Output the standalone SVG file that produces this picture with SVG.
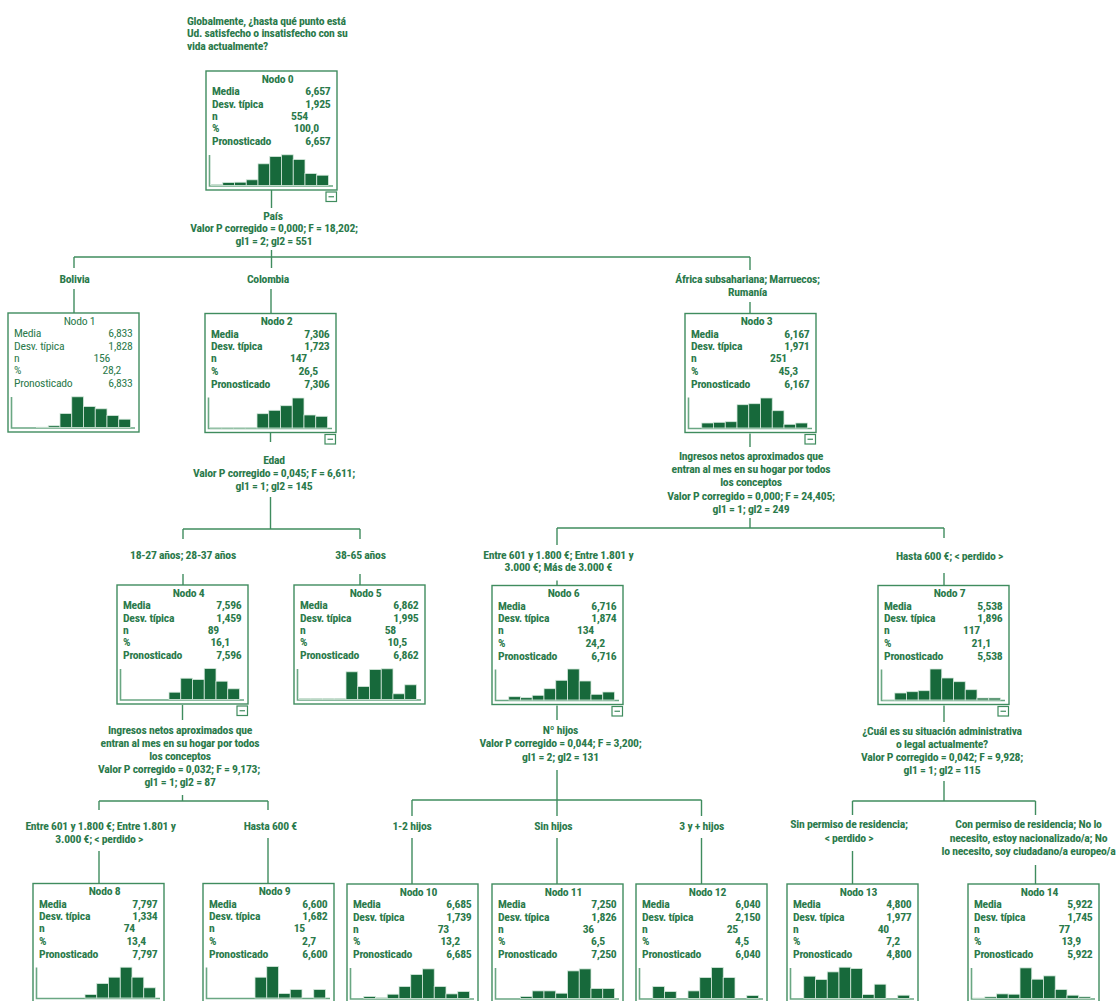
<svg xmlns="http://www.w3.org/2000/svg" xmlns:xlink="http://www.w3.org/1999/xlink" width="1117" height="1001" viewBox="0 0 1117 1001">
<style>
.t{font-family:"Liberation Sans Narrow","Arial Narrow","Roboto Condensed","DejaVu Sans Condensed","Liberation Sans",sans-serif;font-stretch:condensed;font-size:11.7px;letter-spacing:-0.25px;font-weight:bold;fill:#2b7a4b}
.c{text-anchor:middle}
.e{text-anchor:end}
.lt .t{font-weight:normal}
.box{fill:#fff;stroke:#3f8c5e;stroke-width:1.4}
.ax{fill:none;stroke:#6aa783;stroke-width:1.6}
.bar rect{fill:#17693b;stroke:#d6e9dd;stroke-width:0.8}
.mn{fill:#fff;stroke:#3f8c5e;stroke-width:1.2}
.conn line{stroke:#3f8c5e;stroke-width:1.4}
</style>
<defs>
<g id="minus"><rect class="mn" x="120" y="121" width="10.5" height="9.5"/><line x1="122.5" y1="125.75" x2="128" y2="125.75" stroke="#3f8c5e" stroke-width="1.2"/></g>
<g id="frame"><rect class="box" x="0" y="0" width="131" height="119"/><path class="ax" d="M3.5,84 V115 H127"/></g>
</defs>
<rect width="1117" height="1001" fill="#fff"/>

<g id="title">
<text class="t" x="187" y="24.5">Globalmente, ¿hasta qué punto está</text>
<text class="t" x="187" y="37.3">Ud. satisfecho o insatisfecho con su</text>
<text class="t" x="187" y="50">vida actualmente?</text>
</g>

<g id="connectors" class="conn">
<line x1="271.5" y1="190" x2="271.5" y2="208"/>
<line x1="271.5" y1="250" x2="271.5" y2="268"/>
<line x1="74" y1="257" x2="750" y2="257"/>
<line x1="74" y1="257" x2="74" y2="268"/>
<line x1="750" y1="257" x2="750" y2="270"/>
<line x1="74" y1="289" x2="74" y2="313"/>
<line x1="271" y1="289" x2="271" y2="313.5"/>
<line x1="750" y1="302" x2="750" y2="313.5"/>

<line x1="270.5" y1="433" x2="270.5" y2="442"/>
<line x1="270.5" y1="497" x2="270.5" y2="529"/>
<line x1="183" y1="529" x2="360" y2="529"/>
<line x1="183" y1="529" x2="183" y2="539"/>
<line x1="360" y1="529" x2="360" y2="539"/>
<line x1="183" y1="574" x2="183" y2="585"/>
<line x1="360" y1="574" x2="360" y2="585"/>

<line x1="750" y1="433.5" x2="750" y2="447"/>
<line x1="750" y1="518" x2="750" y2="528"/>
<line x1="557" y1="528" x2="944" y2="528"/>
<line x1="557" y1="528" x2="557" y2="545"/>
<line x1="944" y1="528" x2="944" y2="538"/>
<line x1="557" y1="580.5" x2="557" y2="585.5"/>
<line x1="944" y1="573" x2="944" y2="585.5"/>

<line x1="182.5" y1="705" x2="182.5" y2="720"/>
<line x1="182.5" y1="795" x2="182.5" y2="801"/>
<line x1="99" y1="801" x2="268" y2="801"/>
<line x1="99" y1="801" x2="99" y2="810"/>
<line x1="268" y1="801" x2="268" y2="810"/>
<line x1="99" y1="851" x2="99" y2="883.5"/>
<line x1="268" y1="838" x2="268" y2="883.5"/>

<line x1="557" y1="705.5" x2="557" y2="720"/>
<line x1="557" y1="770" x2="557" y2="816"/>
<line x1="412" y1="800" x2="701.5" y2="800"/>
<line x1="412" y1="800" x2="412" y2="816"/>
<line x1="701.5" y1="800" x2="701.5" y2="816"/>
<line x1="412" y1="838" x2="412" y2="884"/>
<line x1="557" y1="838" x2="557" y2="884"/>
<line x1="701.5" y1="838" x2="701.5" y2="884"/>

<line x1="944" y1="705.5" x2="944" y2="722"/>
<line x1="944" y1="781" x2="944" y2="801"/>
<line x1="852.5" y1="801" x2="1035.5" y2="801"/>
<line x1="852.5" y1="801" x2="852.5" y2="815"/>
<line x1="1035.5" y1="801" x2="1035.5" y2="815"/>
<line x1="852.5" y1="851" x2="852.5" y2="884"/>
<line x1="1035.5" y1="865" x2="1035.5" y2="884"/>
</g>

<g id="labels">
<text class="t c" x="273" y="219.5">País</text>
<text class="t c" x="274" y="232">Valor P corregido = 0,000; F = 18,202;</text>
<text class="t c" x="274" y="244.5">gl1 = 2; gl2 = 551</text>
<text class="t c" x="74.5" y="283">Bolivia</text>
<text class="t c" x="268" y="283">Colombia</text>
<text class="t c" x="747.5" y="283">África subsahariana; Marruecos;</text>
<text class="t c" x="747.5" y="296">Rumanía</text>

<text class="t c" x="274" y="464">Edad</text>
<text class="t c" x="274" y="477">Valor P corregido = 0,045; F = 6,611;</text>
<text class="t c" x="274" y="490">gl1 = 1; gl2 = 145</text>
<text class="t c" x="183" y="559.3">18-27 años; 28-37 años</text>
<text class="t c" x="360.5" y="559.3">38-65 años</text>

<text class="t c" x="751" y="460">Ingresos netos aproximados que</text>
<text class="t c" x="751" y="473">entran al mes en su hogar por todos</text>
<text class="t c" x="751" y="486">los conceptos</text>
<text class="t c" x="751" y="499.5">Valor P corregido = 0,000; F = 24,405;</text>
<text class="t c" x="751" y="512.5">gl1 = 1; gl2 = 249</text>
<text class="t c" x="558.3" y="558.5">Entre 601 y 1.800 €; Entre 1.801 y</text>
<text class="t c" x="558.3" y="571.2">3.000 €; Más de 3.000 €</text>
<text class="t c" x="949.5" y="560">Hasta 600 €; &lt; perdido &gt;</text>

<text class="t c" x="180" y="734">Ingresos netos aproximados que</text>
<text class="t c" x="180" y="747">entran al mes en su hogar por todos</text>
<text class="t c" x="180" y="760">los conceptos</text>
<text class="t c" x="179" y="773.3">Valor P corregido = 0,032; F = 9,173;</text>
<text class="t c" x="180" y="786">gl1 = 1; gl2 = 87</text>
<text class="t c" x="100.5" y="830">Entre 601 y 1.800 €; Entre 1.801 y</text>
<text class="t c" x="99.2" y="842.7">3.000 €; &lt; perdido &gt;</text>
<text class="t c" x="270.3" y="830">Hasta 600 €</text>

<text class="t c" x="560.5" y="734">Nº hijos</text>
<text class="t c" x="560.5" y="747">Valor P corregido = 0,044; F = 3,200;</text>
<text class="t c" x="560.5" y="760.5">gl1 = 2; gl2 = 131</text>
<text class="t c" x="412" y="829.5">1-2 hijos</text>
<text class="t c" x="553.3" y="829.5">Sin hijos</text>
<text class="t c" x="701.7" y="829.5">3 y + hijos</text>

<text class="t c" x="942" y="735">¿Cuál es su situación administrativa</text>
<text class="t c" x="942" y="747.5">o legal actualmente?</text>
<text class="t c" x="942" y="760.5">Valor P corregido = 0,042; F = 9,928;</text>
<text class="t c" x="942" y="773.5">gl1 = 1; gl2 = 115</text>
<text class="t c" x="849" y="828.3">Sin permiso de residencia;</text>
<text class="t c" x="849" y="841.7">&lt; perdido &gt;</text>
<text class="t c" x="1028.5" y="828.3">Con permiso de residencia; No lo</text>
<text class="t c" x="1028.5" y="841.7">necesito, estoy nacionalizado/a; No</text>
<text class="t c" x="1028.5" y="855">lo necesito, soy ciudadano/a europeo/a</text>
</g>

<g id="node0" transform="translate(206,71)">
<use xlink:href="#frame"/>
<text class="t c" x="71.5" y="11.7">Nodo 0</text>
<text class="t" x="6" y="24">Media</text><text class="t e" x="124.5" y="24">6,657</text>
<text class="t" x="6" y="36.5">Desv. típica</text><text class="t e" x="124.5" y="36.5">1,925</text>
<text class="t" x="6" y="48.7">n</text><text class="t e" x="102" y="48.7">554</text>
<text class="t" x="6" y="61">%</text><text class="t e" x="113" y="61">100,0</text>
<text class="t" x="6" y="74">Pronosticado</text><text class="t e" x="124.5" y="74">6,657</text>
<g class="bar">
<rect x="5" y="113.5" width="11.75" height="1"/>
<rect x="16.75" y="111.5" width="11.75" height="3"/>
<rect x="28.5" y="111.2" width="11.75" height="3.3"/>
<rect x="40.25" y="108.8" width="11.75" height="5.7"/>
<rect x="52" y="92.8" width="11.75" height="21.7"/>
<rect x="63.75" y="85.5" width="11.75" height="29"/>
<rect x="75.5" y="83.8" width="11.75" height="30.7"/>
<rect x="87.25" y="88.5" width="11.75" height="26"/>
<rect x="99" y="102.5" width="11.75" height="12"/>
<rect x="110.75" y="104.2" width="11.75" height="10.3"/>
</g>
<use xlink:href="#minus"/>
</g>

<g id="node1" class="lt" transform="translate(8,313)">
<use xlink:href="#frame"/>
<text class="t c" x="71.5" y="11.7">Nodo 1</text>
<text class="t" x="6" y="24">Media</text><text class="t e" x="124.5" y="24">6,833</text>
<text class="t" x="6" y="36.5">Desv. típica</text><text class="t e" x="124.5" y="36.5">1,828</text>
<text class="t" x="6" y="48.7">n</text><text class="t e" x="102" y="48.7">156</text>
<text class="t" x="6" y="61">%</text><text class="t e" x="113" y="61">28,2</text>
<text class="t" x="6" y="74">Pronosticado</text><text class="t e" x="124.5" y="74">6,833</text>
<g class="bar">
<rect x="28.5" y="114.2" width="11.75" height="0.3"/>
<rect x="40.25" y="112.8" width="11.75" height="1.7"/>
<rect x="52" y="100.5" width="11.75" height="14"/>
<rect x="63.75" y="83.8" width="11.75" height="30.7"/>
<rect x="75.5" y="93.5" width="11.75" height="21"/>
<rect x="87.25" y="95.8" width="11.75" height="18.7"/>
<rect x="99" y="102.5" width="11.75" height="12"/>
<rect x="110.75" y="106.2" width="11.75" height="8.3"/>
</g>
</g>

<g id="node2" transform="translate(205,313.5)">
<use xlink:href="#frame"/>
<text class="t c" x="71.5" y="11.7">Nodo 2</text>
<text class="t" x="6" y="24">Media</text><text class="t e" x="124.5" y="24">7,306</text>
<text class="t" x="6" y="36.5">Desv. típica</text><text class="t e" x="124.5" y="36.5">1,723</text>
<text class="t" x="6" y="48.7">n</text><text class="t e" x="102" y="48.7">147</text>
<text class="t" x="6" y="61">%</text><text class="t e" x="113" y="61">26,5</text>
<text class="t" x="6" y="74">Pronosticado</text><text class="t e" x="124.5" y="74">7,306</text>
<g class="bar">
<rect x="5" y="114.2" width="11.75" height="0.3"/>
<rect x="16.75" y="114.2" width="11.75" height="0.3"/>
<rect x="28.5" y="114.2" width="11.75" height="0.3"/>
<rect x="40.25" y="114.2" width="11.75" height="0.3"/>
<rect x="52" y="100.2" width="11.75" height="14.3"/>
<rect x="63.75" y="96.8" width="11.75" height="17.7"/>
<rect x="75.5" y="92.2" width="11.75" height="22.3"/>
<rect x="87.25" y="84.5" width="11.75" height="30"/>
<rect x="99" y="101.5" width="11.75" height="13"/>
<rect x="110.75" y="102.8" width="11.75" height="11.7"/>
</g>
<use xlink:href="#minus"/>
</g>

<g id="node3" transform="translate(685,313.5)">
<use xlink:href="#frame"/>
<text class="t c" x="71.5" y="11.7">Nodo 3</text>
<text class="t" x="6" y="24">Media</text><text class="t e" x="124.5" y="24">6,167</text>
<text class="t" x="6" y="36.5">Desv. típica</text><text class="t e" x="124.5" y="36.5">1,971</text>
<text class="t" x="6" y="48.7">n</text><text class="t e" x="102" y="48.7">251</text>
<text class="t" x="6" y="61">%</text><text class="t e" x="113" y="61">45,3</text>
<text class="t" x="6" y="74">Pronosticado</text><text class="t e" x="124.5" y="74">6,167</text>
<g class="bar">
<rect x="16.75" y="109.5" width="11.75" height="5"/>
<rect x="28.5" y="108.8" width="11.75" height="5.7"/>
<rect x="40.25" y="108.2" width="11.75" height="6.3"/>
<rect x="52" y="91.2" width="11.75" height="23.3"/>
<rect x="63.75" y="90.2" width="11.75" height="24.3"/>
<rect x="75.5" y="84.5" width="11.75" height="30"/>
<rect x="87.25" y="97.2" width="11.75" height="17.3"/>
<rect x="99" y="110.8" width="11.75" height="3.7"/>
<rect x="110.75" y="109.5" width="11.75" height="5"/>
</g>
<use xlink:href="#minus"/>
</g>

<g id="node4" transform="translate(117,585)">
<use xlink:href="#frame"/>
<text class="t c" x="71.5" y="11.7">Nodo 4</text>
<text class="t" x="6" y="24">Media</text><text class="t e" x="124.5" y="24">7,596</text>
<text class="t" x="6" y="36.5">Desv. típica</text><text class="t e" x="124.5" y="36.5">1,459</text>
<text class="t" x="6" y="48.7">n</text><text class="t e" x="102" y="48.7">89</text>
<text class="t" x="6" y="61">%</text><text class="t e" x="113" y="61">16,1</text>
<text class="t" x="6" y="74">Pronosticado</text><text class="t e" x="124.5" y="74">7,596</text>
<g class="bar">
<rect x="52" y="107.2" width="11.75" height="7.3"/>
<rect x="63.75" y="93.2" width="11.75" height="21.3"/>
<rect x="75.5" y="94.5" width="11.75" height="20"/>
<rect x="87.25" y="83.5" width="11.75" height="31"/>
<rect x="99" y="96.2" width="11.75" height="18.3"/>
<rect x="110.75" y="103.8" width="11.75" height="10.7"/>
</g>
<use xlink:href="#minus"/>
</g>

<g id="node5" transform="translate(294,585)">
<use xlink:href="#frame"/>
<text class="t c" x="71.5" y="11.7">Nodo 5</text>
<text class="t" x="6" y="24">Media</text><text class="t e" x="124.5" y="24">6,862</text>
<text class="t" x="6" y="36.5">Desv. típica</text><text class="t e" x="124.5" y="36.5">1,995</text>
<text class="t" x="6" y="48.7">n</text><text class="t e" x="102" y="48.7">58</text>
<text class="t" x="6" y="61">%</text><text class="t e" x="113" y="61">10,5</text>
<text class="t" x="6" y="74">Pronosticado</text><text class="t e" x="124.5" y="74">6,862</text>
<g class="bar">
<rect x="5" y="113.5" width="11.75" height="1"/>
<rect x="16.75" y="113.5" width="11.75" height="1"/>
<rect x="28.5" y="113.5" width="11.75" height="1"/>
<rect x="40.25" y="113.5" width="11.75" height="1"/>
<rect x="52" y="86.8" width="11.75" height="27.7"/>
<rect x="63.75" y="101.5" width="11.75" height="13"/>
<rect x="75.5" y="84.5" width="11.75" height="30"/>
<rect x="87.25" y="83.8" width="11.75" height="30.7"/>
<rect x="99" y="108.8" width="11.75" height="5.7"/>
<rect x="110.75" y="99.8" width="11.75" height="14.7"/>
</g>
</g>

<g id="node6" transform="translate(492,585.5)">
<use xlink:href="#frame"/>
<text class="t c" x="71.5" y="11.7">Nodo 6</text>
<text class="t" x="6" y="24">Media</text><text class="t e" x="124.5" y="24">6,716</text>
<text class="t" x="6" y="36.5">Desv. típica</text><text class="t e" x="124.5" y="36.5">1,874</text>
<text class="t" x="6" y="48.7">n</text><text class="t e" x="102" y="48.7">134</text>
<text class="t" x="6" y="61">%</text><text class="t e" x="113" y="61">24,2</text>
<text class="t" x="6" y="74">Pronosticado</text><text class="t e" x="124.5" y="74">6,716</text>
<g class="bar">
<rect x="16.75" y="111.2" width="11.75" height="3.3"/>
<rect x="28.5" y="112.2" width="11.75" height="2.3"/>
<rect x="40.25" y="109.8" width="11.75" height="4.7"/>
<rect x="52" y="103.2" width="11.75" height="11.3"/>
<rect x="63.75" y="94.8" width="11.75" height="19.7"/>
<rect x="75.5" y="83.5" width="11.75" height="31"/>
<rect x="87.25" y="95.5" width="11.75" height="19"/>
<rect x="99" y="108.8" width="11.75" height="5.7"/>
<rect x="110.75" y="106.5" width="11.75" height="8"/>
</g>
<use xlink:href="#minus"/>
</g>

<g id="node7" transform="translate(878,585.5)">
<use xlink:href="#frame"/>
<text class="t c" x="71.5" y="11.7">Nodo 7</text>
<text class="t" x="6" y="24">Media</text><text class="t e" x="124.5" y="24">5,538</text>
<text class="t" x="6" y="36.5">Desv. típica</text><text class="t e" x="124.5" y="36.5">1,896</text>
<text class="t" x="6" y="48.7">n</text><text class="t e" x="102" y="48.7">117</text>
<text class="t" x="6" y="61">%</text><text class="t e" x="113" y="61">21,1</text>
<text class="t" x="6" y="74">Pronosticado</text><text class="t e" x="124.5" y="74">5,538</text>
<g class="bar">
<rect x="5" y="114" width="11.75" height="0.5"/>
<rect x="16.75" y="107.5" width="11.75" height="7"/>
<rect x="28.5" y="106.2" width="11.75" height="8.3"/>
<rect x="40.25" y="105.2" width="11.75" height="9.3"/>
<rect x="52" y="83.5" width="11.75" height="31"/>
<rect x="63.75" y="92.5" width="11.75" height="22"/>
<rect x="75.5" y="96.2" width="11.75" height="18.3"/>
<rect x="87.25" y="104.2" width="11.75" height="10.3"/>
<rect x="99" y="112.5" width="11.75" height="2"/>
<rect x="110.75" y="112.5" width="11.75" height="2"/>
</g>
<use xlink:href="#minus"/>
</g>

<g id="node8" transform="translate(33,883.5)">
<use xlink:href="#frame"/>
<text class="t c" x="71.5" y="11.7">Nodo 8</text>
<text class="t" x="6" y="24">Media</text><text class="t e" x="124.5" y="24">7,797</text>
<text class="t" x="6" y="36.5">Desv. típica</text><text class="t e" x="124.5" y="36.5">1,334</text>
<text class="t" x="6" y="48.7">n</text><text class="t e" x="102" y="48.7">74</text>
<text class="t" x="6" y="61">%</text><text class="t e" x="113" y="61">13,4</text>
<text class="t" x="6" y="74">Pronosticado</text><text class="t e" x="124.5" y="74">7,797</text>
<g class="bar">
<rect x="52" y="111" width="11.75" height="3.5"/>
<rect x="63.75" y="100" width="11.75" height="14.5"/>
<rect x="75.5" y="93.7" width="11.75" height="20.8"/>
<rect x="87.25" y="83.7" width="11.75" height="30.8"/>
<rect x="99" y="93.7" width="11.75" height="20.8"/>
<rect x="110.75" y="104.3" width="11.75" height="10.2"/>
</g>
</g>

<g id="node9" transform="translate(203,883.5)">
<use xlink:href="#frame"/>
<text class="t c" x="71.5" y="11.7">Nodo 9</text>
<text class="t" x="6" y="24">Media</text><text class="t e" x="124.5" y="24">6,600</text>
<text class="t" x="6" y="36.5">Desv. típica</text><text class="t e" x="124.5" y="36.5">1,682</text>
<text class="t" x="6" y="48.7">n</text><text class="t e" x="102" y="48.7">15</text>
<text class="t" x="6" y="61">%</text><text class="t e" x="113" y="61">2,7</text>
<text class="t" x="6" y="74">Pronosticado</text><text class="t e" x="124.5" y="74">6,600</text>
<g class="bar">
<rect x="52" y="93.7" width="11.75" height="20.8"/>
<rect x="63.75" y="83" width="11.75" height="31.5"/>
<rect x="75.5" y="110" width="11.75" height="4.5"/>
<rect x="87.25" y="106" width="11.75" height="8.5"/>
<rect x="110.75" y="106" width="11.75" height="8.5"/>
</g>
</g>

<g id="node10" transform="translate(347,884)">
<use xlink:href="#frame"/>
<text class="t c" x="71.5" y="11.7">Nodo 10</text>
<text class="t" x="6" y="24">Media</text><text class="t e" x="124.5" y="24">6,685</text>
<text class="t" x="6" y="36.5">Desv. típica</text><text class="t e" x="124.5" y="36.5">1,739</text>
<text class="t" x="6" y="48.7">n</text><text class="t e" x="102" y="48.7">73</text>
<text class="t" x="6" y="61">%</text><text class="t e" x="113" y="61">13,2</text>
<text class="t" x="6" y="74">Pronosticado</text><text class="t e" x="124.5" y="74">6,685</text>
<g class="bar">
<rect x="16.75" y="112.5" width="11.75" height="2"/>
<rect x="28.5" y="113.7" width="11.75" height="0.8"/>
<rect x="40.25" y="110.2" width="11.75" height="4.3"/>
<rect x="52" y="102.5" width="11.75" height="12"/>
<rect x="63.75" y="90.5" width="11.75" height="24"/>
<rect x="75.5" y="84.9" width="11.75" height="29.6"/>
<rect x="87.25" y="102.5" width="11.75" height="12"/>
<rect x="99" y="109.9" width="11.75" height="4.6"/>
<rect x="110.75" y="107.5" width="11.75" height="7"/>
</g>
</g>

<g id="node11" transform="translate(492,884)">
<use xlink:href="#frame"/>
<text class="t c" x="71.5" y="11.7">Nodo 11</text>
<text class="t" x="6" y="24">Media</text><text class="t e" x="124.5" y="24">7,250</text>
<text class="t" x="6" y="36.5">Desv. típica</text><text class="t e" x="124.5" y="36.5">1,826</text>
<text class="t" x="6" y="48.7">n</text><text class="t e" x="102" y="48.7">36</text>
<text class="t" x="6" y="61">%</text><text class="t e" x="113" y="61">6,5</text>
<text class="t" x="6" y="74">Pronosticado</text><text class="t e" x="124.5" y="74">7,250</text>
<g class="bar">
<rect x="28.5" y="112.5" width="11.75" height="2"/>
<rect x="40.25" y="106.9" width="11.75" height="7.6"/>
<rect x="52" y="106.9" width="11.75" height="7.6"/>
<rect x="63.75" y="109.2" width="11.75" height="5.3"/>
<rect x="75.5" y="86.9" width="11.75" height="27.6"/>
<rect x="87.25" y="84.9" width="11.75" height="29.6"/>
<rect x="99" y="104.5" width="11.75" height="10"/>
<rect x="110.75" y="104.5" width="11.75" height="10"/>
</g>
</g>

<g id="node12" transform="translate(636,884)">
<use xlink:href="#frame"/>
<text class="t c" x="71.5" y="11.7">Nodo 12</text>
<text class="t" x="6" y="24">Media</text><text class="t e" x="124.5" y="24">6,040</text>
<text class="t" x="6" y="36.5">Desv. típica</text><text class="t e" x="124.5" y="36.5">2,150</text>
<text class="t" x="6" y="48.7">n</text><text class="t e" x="102" y="48.7">25</text>
<text class="t" x="6" y="61">%</text><text class="t e" x="113" y="61">4,5</text>
<text class="t" x="6" y="74">Pronosticado</text><text class="t e" x="124.5" y="74">6,040</text>
<g class="bar">
<rect x="16.75" y="102.5" width="11.75" height="12"/>
<rect x="28.5" y="107.5" width="11.75" height="7"/>
<rect x="52" y="106.9" width="11.75" height="7.6"/>
<rect x="63.75" y="93.5" width="11.75" height="21"/>
<rect x="75.5" y="83.5" width="11.75" height="31"/>
<rect x="87.25" y="93.5" width="11.75" height="21"/>
<rect x="110.75" y="111.5" width="11.75" height="3"/>
</g>
</g>

<g id="node13" transform="translate(787,884)">
<use xlink:href="#frame"/>
<text class="t c" x="71.5" y="11.7">Nodo 13</text>
<text class="t" x="6" y="24">Media</text><text class="t e" x="124.5" y="24">4,800</text>
<text class="t" x="6" y="36.5">Desv. típica</text><text class="t e" x="124.5" y="36.5">1,977</text>
<text class="t" x="6" y="48.7">n</text><text class="t e" x="102" y="48.7">40</text>
<text class="t" x="6" y="61">%</text><text class="t e" x="113" y="61">7,2</text>
<text class="t" x="6" y="74">Pronosticado</text><text class="t e" x="124.5" y="74">4,800</text>
<g class="bar">
<rect x="16.75" y="92.2" width="11.75" height="22.3"/>
<rect x="28.5" y="95.5" width="11.75" height="19"/>
<rect x="40.25" y="87.9" width="11.75" height="26.6"/>
<rect x="52" y="83.2" width="11.75" height="31.3"/>
<rect x="63.75" y="84.5" width="11.75" height="30"/>
<rect x="75.5" y="110.5" width="11.75" height="4"/>
<rect x="87.25" y="100.2" width="11.75" height="14.3"/>
<rect x="110.75" y="111.2" width="11.75" height="3.3"/>
</g>
</g>

<g id="node14" transform="translate(968,884)">
<use xlink:href="#frame"/>
<text class="t c" x="71.5" y="11.7">Nodo 14</text>
<text class="t" x="6" y="24">Media</text><text class="t e" x="124.5" y="24">5,922</text>
<text class="t" x="6" y="36.5">Desv. típica</text><text class="t e" x="124.5" y="36.5">1,745</text>
<text class="t" x="6" y="48.7">n</text><text class="t e" x="102" y="48.7">77</text>
<text class="t" x="6" y="61">%</text><text class="t e" x="113" y="61">13,9</text>
<text class="t" x="6" y="74">Pronosticado</text><text class="t e" x="124.5" y="74">5,922</text>
<g class="bar">
<rect x="5" y="114" width="11.75" height="0.5"/>
<rect x="16.75" y="112.9" width="11.75" height="1.6"/>
<rect x="28.5" y="109.9" width="11.75" height="4.6"/>
<rect x="40.25" y="110.2" width="11.75" height="4.3"/>
<rect x="52" y="83.9" width="11.75" height="30.6"/>
<rect x="63.75" y="95.2" width="11.75" height="19.3"/>
<rect x="75.5" y="91.9" width="11.75" height="22.6"/>
<rect x="87.25" y="105.5" width="11.75" height="9"/>
<rect x="99" y="111.2" width="11.75" height="3.3"/>
<rect x="110.75" y="112.9" width="11.75" height="1.6"/>
</g>
</g>
</svg>
